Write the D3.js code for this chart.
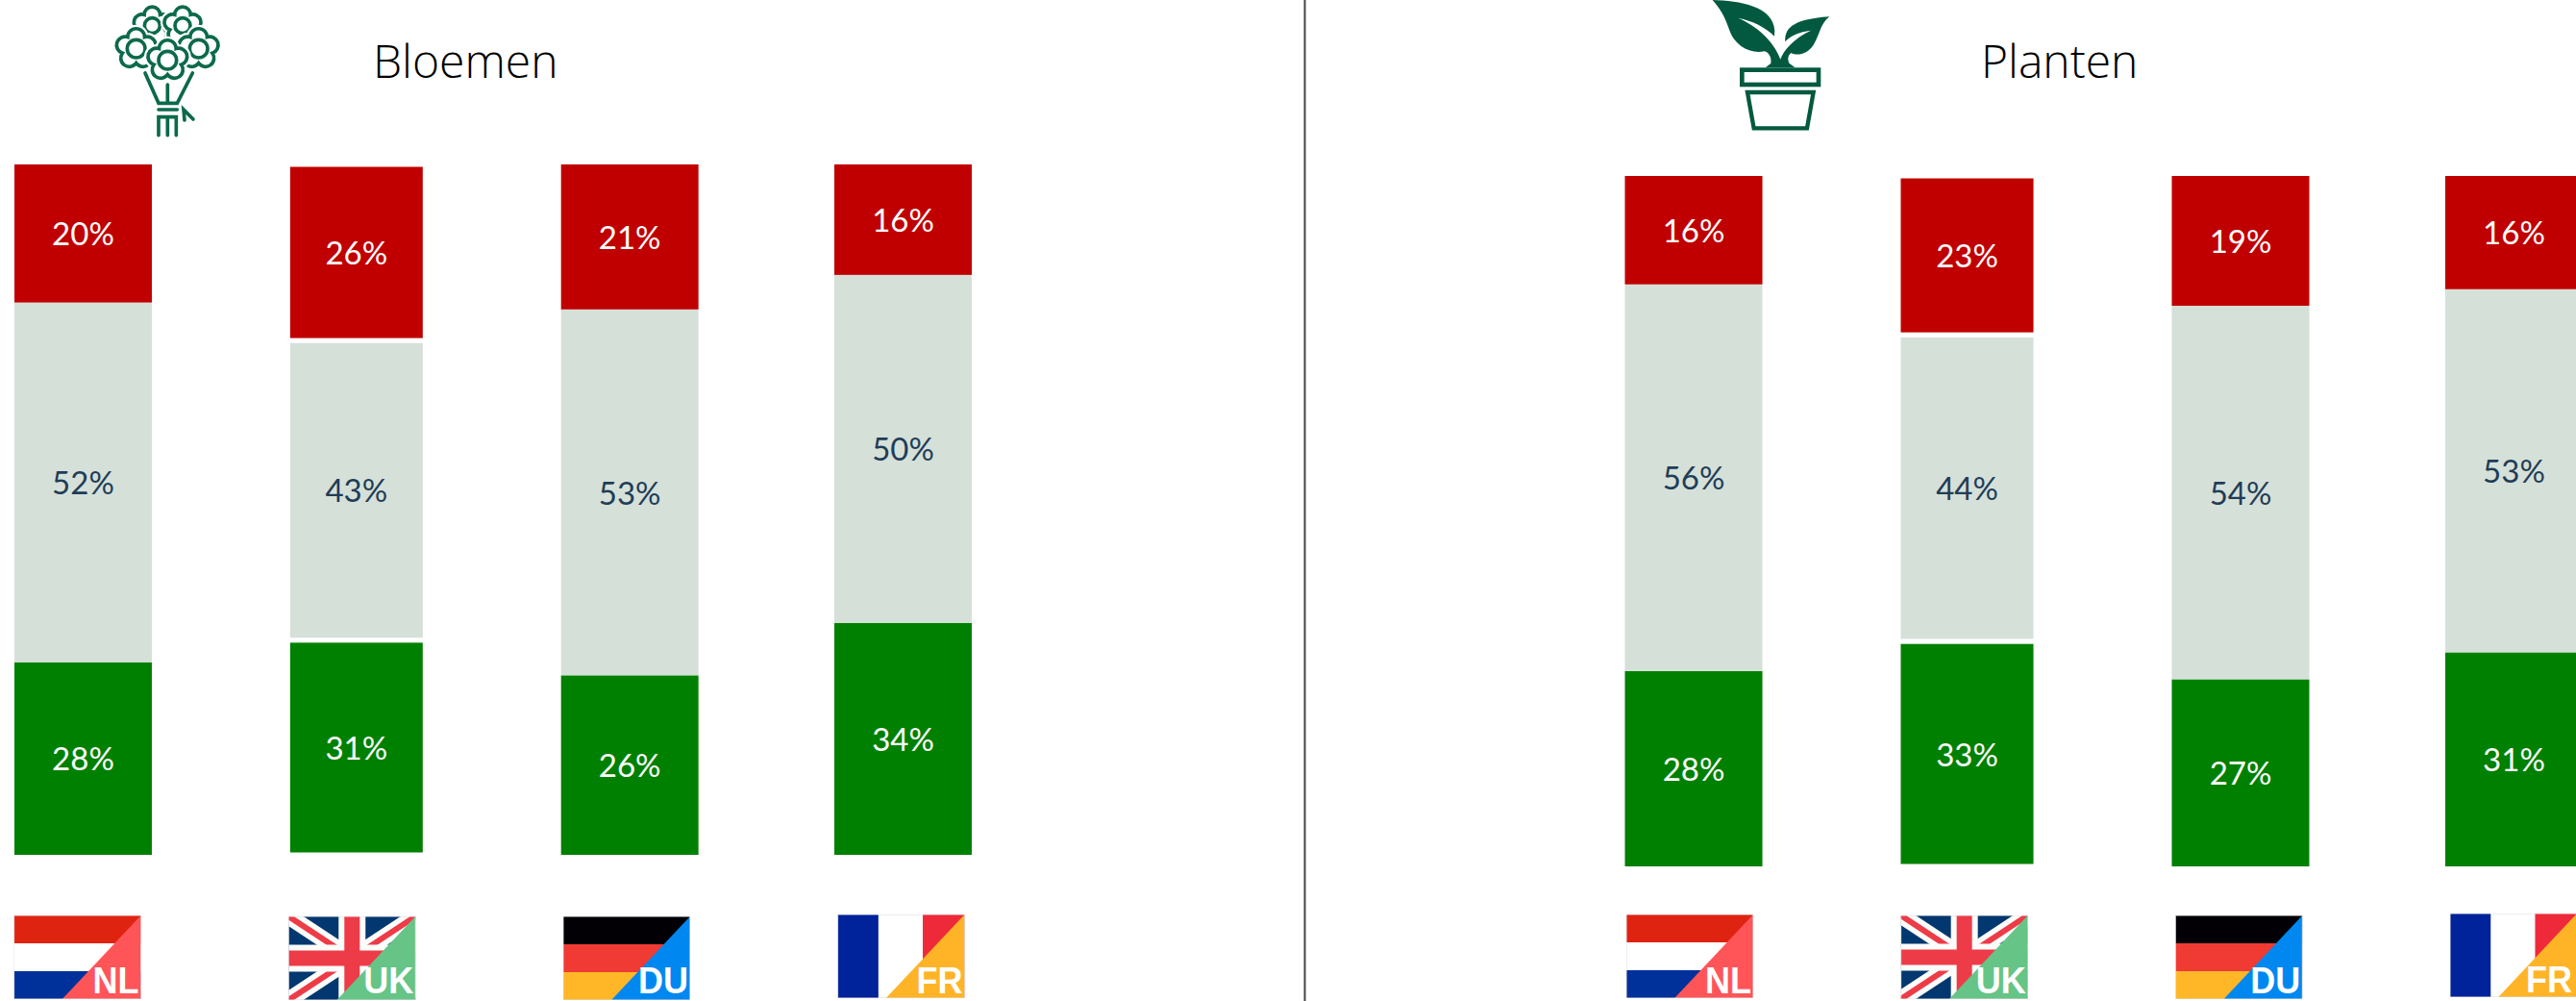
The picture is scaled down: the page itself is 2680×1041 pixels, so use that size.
<!DOCTYPE html>
<html>
<head>
<meta charset="utf-8">
<script src="https://cdn.jsdelivr.net/npm/d3@7"></script>
<style>
html,body{margin:0;padding:0;background:#fff;overflow:hidden}
svg{display:block}
</style>
</head>
<body>
<div id="chart"></div>
<script>
var landen = ["NL","UK","DU","FR"];
var reeksen = ["positief","neutraal","negatief"];

var bloemenPositief = [27.9,31.1,26,33.6];
var bloemenNeutraal = [52.1,43.4,53.0,50.4];
var bloemenNegatief = [20,25.5,21,16];
var plantenPositief = [28.3,32.6,27.1,31];
var plantenNeutraal = [56,44.4,54.1,52.6];
var plantenNegatief = [15.7,23,18.8,16.4];

var kleuren = ["#008000","#d5e0d9","#c00000"];
var tekstKleuren = ["#ffffff","#1f3d56","#ffffff"];
var vlagTekstBreedte = {NL:48,UK:52,DU:52,FR:48};

var width = 2680, height = 1041;
var svg = d3.select("#chart").append("svg")
	.attr("width", width)
	.attr("height", height)
	.style("font-family","Lato, sans-serif");
var defs = svg.append("defs");

function toRows(pos,neu,neg){
	return landen.map(function(land,i){
		return {land:land, positief:pos[i], neutraal:neu[i], negatief:neg[i]};
	});
}

function drawPanel(opts){
	var x = d3.scaleBand().domain(landen).range(opts.xRange).paddingInner(1-143/284.4);
	var y = d3.scaleLinear().domain([0,100]).range(opts.yRange);
	var stacked = d3.stack().keys(reeksen)(opts.rows);
	var g = svg.append("g");
	var series = g.selectAll(".serie")
		.data(stacked)
		.enter().append("g")
		.attr("class","serie");
	series.selectAll("rect")
		.data(function(s){ return s.map(function(p){ return {p:p, key:s.key}; }); })
		.enter().append("rect")
		.attr("x",function(d){ return x(d.p.data.land); })
		.attr("y",function(d){ return y(d.p[1]); })
		.attr("width",x.bandwidth())
		.attr("height",function(d){ return y(d.p[0])-y(d.p[1]); })
		.style("fill",function(d){ return kleuren[reeksen.indexOf(d.key)]; })
		.style("stroke",function(d){ return d.p.data.land=="UK" ? "#fff" : "none"; })
		.style("stroke-width",5);
	series.selectAll("text")
		.data(function(s){ return s.map(function(p){ return {p:p, key:s.key}; }); })
		.enter().append("text")
		.attr("x",function(d){ return x(d.p.data.land)+x.bandwidth()/2; })
		.attr("y",function(d){ return (y(d.p[0])+y(d.p[1]))/2+1; })
		.attr("dy","0.35em")
		.attr("text-anchor","middle")
		.attr("font-size",33)
		.style("fill",function(d){ return tekstKleuren[reeksen.indexOf(d.key)]; })
		.text(function(d){ return Math.round(d.p[1]-d.p[0])+"%"; });

	svg.append("text")
		.attr("x",opts.titleX)
		.attr("y",81)
		.attr("font-size",48)
		.attr("font-weight",300)
		.style("font-family","'Open Sans', sans-serif")
		.style("fill","#000")
		.text(opts.title);

	var fx = d3.scaleBand().domain(landen).range(opts.flagRange).paddingInner(1-132/285.67);
	landen.forEach(function(land,i){
		drawFlag(land, fx(land), opts.flagY[i], fx.bandwidth(), 87, opts.title);
	});
}

function drawFlag(land,x0,y0,w,h,id){
	var clip = "clip-"+id+"-"+land;
	defs.append("clipPath").attr("id",clip)
		.append("rect").attr("width",w).attr("height",h);
	var f = svg.append("g")
		.attr("transform","translate("+x0+","+y0+")")
		.attr("clip-path","url(#"+clip+")");
	var corner;
	if(land=="NL"){
		f.append("rect").attr("width",w).attr("height",h/3).style("fill","#df2311");
		f.append("rect").attr("y",h/3).attr("width",w).attr("height",h/3).style("fill","#fff");
		f.append("rect").attr("y",2*h/3).attr("width",w).attr("height",h/3).style("fill","#00309a");
		corner = "#ff5558";
	}
	if(land=="DU"){
		f.append("rect").attr("width",w).attr("height",h/3).style("fill","#020005");
		f.append("rect").attr("y",h/3).attr("width",w).attr("height",h/3).style("fill","#ef3b33");
		f.append("rect").attr("y",2*h/3).attr("width",w).attr("height",h/3).style("fill","#ffb728");
		corner = "#0088f0";
	}
	if(land=="FR"){
		f.append("rect").attr("width",w*0.32).attr("height",h).style("fill","#00229a");
		f.append("rect").attr("x",w*0.67).attr("width",w*0.33).attr("height",h).style("fill","#ee2a3a");
		corner = "#ffb428";
	}
	if(land=="UK"){
		f.append("rect").attr("width",w).attr("height",h).style("fill","#02376f");
		var diag = [[0,0,w,h],[w,0,0,h]];
		diag.forEach(function(l){
			f.append("line").attr("x1",l[0]).attr("y1",l[1]).attr("x2",l[2]).attr("y2",l[3])
				.style("stroke","#fbfdfa").style("stroke-width",17);
			f.append("line").attr("x1",l[0]).attr("y1",l[1]).attr("x2",l[2]).attr("y2",l[3])
				.style("stroke","#ee3b48").style("stroke-width",6);
		});
		f.append("rect").attr("x",w*0.5-14).attr("width",28).attr("height",h).style("fill","#fbfdfa");
		f.append("rect").attr("y",h*0.5-14).attr("width",w).attr("height",28).style("fill","#fbfdfa");
		f.append("rect").attr("x",w*0.5-8).attr("width",16).attr("height",h).style("fill","#ee3b48");
		f.append("rect").attr("y",h*0.5-8).attr("width",w).attr("height",16).style("fill","#ee3b48");
		corner = "#66c487";
	}
	f.append("path")
		.attr("d","M"+w+",0L"+(w*0.38)+","+h+"L"+w+","+h+"Z")
		.style("fill",corner);
	f.append("rect").attr("width",w).attr("height",h)
		.style("fill","none").style("stroke","#ddd").style("stroke-width",1);
	svg.append("text")
		.attr("x",Math.min(x0+w-2,width-4))
		.attr("y",Math.min(y0+h-5,1033))
		.attr("text-anchor","end")
		.attr("font-size",39)
		.attr("font-weight",700)
		.attr("textLength",vlagTekstBreedte[land])
		.attr("lengthAdjust","spacingAndGlyphs")
		.style("font-family","'Liberation Sans', sans-serif")
		.style("fill","#fff")
		.text(land);
}

// bloemetje met vijf lobben
function lobes(cx,cy,r,n){
	var d = "";
	var lobeR = r*0.5;
	for(var i=0;i<=n;i++){
		var a = -Math.PI/2 + (i-0.5)*2*Math.PI/n;
		var px = cx+r*Math.cos(a), py = cy+r*Math.sin(a);
		d += (i==0 ? "M" : "A"+lobeR+","+lobeR+" 0 1 1 ")+px+","+py;
	}
	return d+"Z";
}

function drawBouquet(){
	var g = svg.append("g")
		.attr("transform","translate(90,0) scale(0.3333)")
		.style("fill","none")
		.style("stroke","#0b6a4b")
		.style("stroke-width",11)
		.style("stroke-linecap","round");
	var flowers = [[205,80,42,24],[300,80,42,24],[155,152,45,28],[350,152,45,28],[253,188,45,28]];
	flowers.forEach(function(b){
		g.append("path").attr("d",lobes(b[0],b[1],b[2],5))
			.style("fill","#fff").style("stroke","#fff").style("stroke-width",24);
		g.append("path").attr("d",lobes(b[0],b[1],b[2],5));
		g.append("circle").attr("cx",b[0]).attr("cy",b[1]).attr("r",b[3]).style("fill","#fff");
	});
	g.append("path").attr("d","M183,228L225,322L283,322L331,228M253,264L253,322M225,342L283,342M225,422L225,365L280,365L280,422M253,365L253,422M306,375L303,342L333,372");
}

function drawPlant(){
	var g = svg.append("g")
		.attr("transform","translate(1680,0) scale(0.3333)")
		.style("stroke","#03593f");
	g.append("path")
		.attr("d","M305,0C390,2 495,20 499,95L498,113C470,85 430,65 385,56C440,80 495,125 517,185C525,160 560,118 612,95C575,100 550,110 532,130C530,95 545,60 670,52C640,75 640,110 620,140C600,170 570,175 550,165C538,175 540,190 545,198L563,211L470,211L487,198C490,180 482,165 468,160C420,170 375,140 360,100C345,60 340,40 305,0Z")
		.style("fill","#03593f").style("stroke","none");
	g.append("rect").attr("x",397).attr("y",218).attr("width",239).attr("height",46)
		.style("fill","none").style("stroke-width",14);
	g.append("path").attr("d","M414,288L620,288L600,400L434,400Z")
		.style("fill","none").style("stroke-width",13);
}

drawPanel({
	title:"Bloemen", titleX:388,
	rows:toRows(bloemenPositief,bloemenNeutraal,bloemenNegatief),
	xRange:[15,1011], yRange:[889,171],
	flagRange:[14.6,1003.6], flagY:[952,953,953,951]
});
drawPanel({
	title:"Planten", titleX:2061,
	rows:toRows(plantenPositief,plantenNeutraal,plantenNegatief),
	xRange:[1690.5,2687], yRange:[901,183],
	flagRange:[1692,2681], flagY:[951,952,952,950]
});
drawBouquet();
drawPlant();

svg.append("line")
	.attr("x1",1357.5).attr("x2",1357.5)
	.attr("y1",0).attr("y2",height)
	.style("stroke","#444")
	.style("stroke-width",2);
</script>
</body>
</html>
